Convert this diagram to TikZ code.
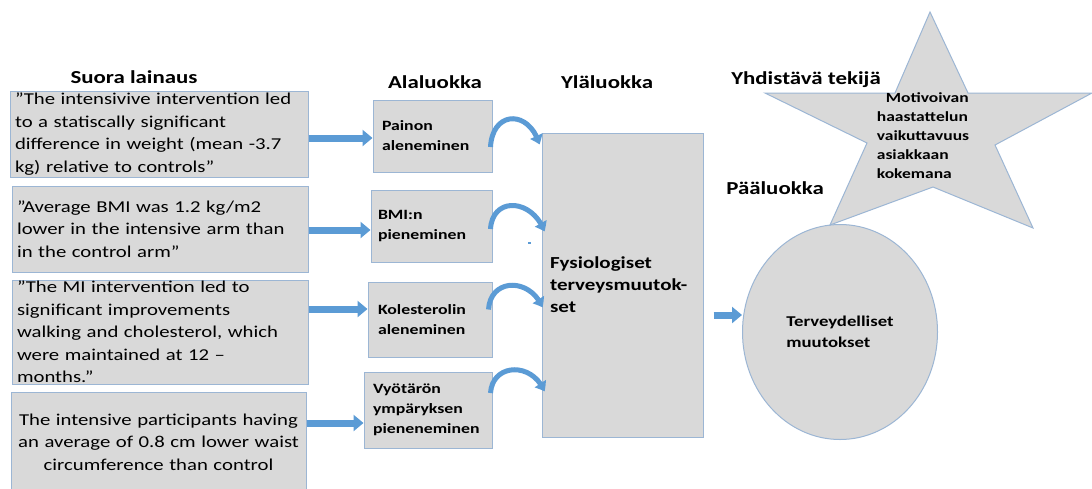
\documentclass[tikz,border=0pt]{standalone}
\usepackage{fontspec}
\setmainfont{Carlito}[FakeStretch=1.25]
\usetikzlibrary{arrows.meta,shapes.geometric,bending,calc}
\definecolor{boxfill}{HTML}{D9D9D9}
\definecolor{boxline}{HTML}{9CB6D4}
\definecolor{arrowblue}{HTML}{5B9BD5}
\begin{document}
\begin{tikzpicture}[x=1pt,y=-1pt,
  box/.style={draw=boxline, fill=boxfill, line width=1pt, inner ysep=0pt, align=left},
  qbox/.style={box, inner xsep=5pt, font=\fontsize{16.6}{22.5}\selectfont},
  abox/.style={box, inner xsep=9pt, font=\bfseries\fontsize{14.2}{20}\selectfont},
  head/.style={font=\bfseries\fontsize{18.3}{20}\selectfont, inner sep=0pt},
  barrow/.style={draw=arrowblue, line width=7pt, -{Triangle[width=16pt,length=10pt]}},
  carrow/.style={draw=arrowblue, line width=5pt, -{Triangle[width=13pt,length=9pt,bend]}},
]
\useasboundingbox (0,0) rectangle (1092,488);
\clip (0,0) rectangle (1092,488);
\fill[white] (0,0) rectangle (1092,488);

% headers
\node[head] (h1) at (134,77) {Suora lainaus};
\node[head] (h2) at (435,82) {Alaluokka};
\node[head] (h3) at (607,82) {Yläluokka};
\node[head] (h4) at (806,80) {Yhdistävä tekijä};
\node[head] (h5) at (775,188) {Pääluokka};

% quote boxes
\node[qbox, text width=288pt, minimum height=86pt] (q1) at (159,134)
  {”The intensivive intervention led\\to a statiscally significant\\difference in weight (mean -3.7\\kg) relative to controls”};
\node[qbox, text width=286pt, minimum height=86pt] (q2) at (160,229)
  {”Average BMI was 1.2 kg/m2\\lower in the intensive arm than\\in the control arm”};
\node[qbox, text width=286pt, minimum height=104pt] (q3) at (160,332)
  {”The MI intervention led to\\significant improvements\\walking and cholesterol, which\\were maintained at 12 --\\months.”};
\node[qbox, text width=285pt, minimum height=100pt, align=center] (q4) at (158.5,442)
  {The intensive participants having\\an average of 0.8 cm lower waist\\circumference than control};

% subcategory boxes
\node[abox, text width=101pt, minimum height=72pt] (a1) at (432.5,136) {Painon\\aleneminen};
\node[abox, inner xsep=7pt, text width=107pt, minimum height=72pt] (a2) at (431.5,226) {BMI:n\\pieneminen};
\node[abox, inner xsep=10pt, text width=104pt, minimum height=75pt] (a3) at (430,319.5) {Kolesterolin\\aleneminen};
\node[abox, inner xsep=9pt, text width=110pt, minimum height=76pt] (a4) at (428,410) {Vyötärön\\ympäryksen\\pieneneminen};

% upper category box
\node[box, inner xsep=8pt, text width=145pt, minimum height=304pt, font=\bfseries\fontsize{16.8}{22}\selectfont] (y) at (622.5,285)
  {Fysiologiset\\terveysmuutok-\\set};

% main category ellipse
\node[ellipse, draw=boxline, fill=boxfill, line width=1pt, minimum width=195pt, minimum height=215pt, inner sep=0pt, align=left, font=\bfseries\fontsize{15}{21}\selectfont] (e) at (840,332)
  {Terveydelliset\\muutokset};

% star
\draw[draw=boxline, fill=boxfill, line width=1pt]
  (930,12) -- (968,93) -- (1092,93) -- (995,145) -- (1033,228) -- (933,187)
  -- (830,225) -- (867,143) -- (765,93) -- (895,93) -- cycle;
\node[align=left, inner sep=0pt, font=\bfseries\fontsize{14}{19}\selectfont] (s) at (923,136)
  {\hspace*{9pt}Motivoivan\\haastattelun\\vaikuttavuus\\asiakkaan\\kokemana};

% straight arrows
\draw[barrow] (q1.east |- 0,138) -- (a1.west |- 0,138);
\draw[barrow] (q2.east |- 0,230) -- (a2.west |- 0,230);
\draw[barrow] (q3.east |- 0,309) -- (a3.west |- 0,309);
\draw[barrow] (q4.east |- 0,423) -- (a4.west |- 0,423);
\draw[barrow] ($(y.east |- 0,315)+(10,0)$) -- (e.west |- 0,315);

% curved arrows
\draw[carrow] ([shift={(-2,11)}]a1.east) .. controls +(2,-37) and +(-10,-35) .. ([shift={(-2,12)}]y.north west);
\draw[carrow] ([shift={(-2,3)}]a2.east) .. controls +(2,-33) and +(-12,-33) .. ([shift={(3,99)}]y.north west);
\draw[carrow] ([shift={(-4,-10)}]a3.east) .. controls +(2,-32) and +(-12,-30) .. ([shift={(1,175)}]y.north west);
\draw[carrow] ([shift={(-2,-17)}]a4.east) .. controls +(2,-30) and +(-12,-30) .. ([shift={(3,259)}]y.north west);

% small mark
\fill[arrowblue] (528,242) rectangle (531,244);
\end{tikzpicture}
\end{document}
